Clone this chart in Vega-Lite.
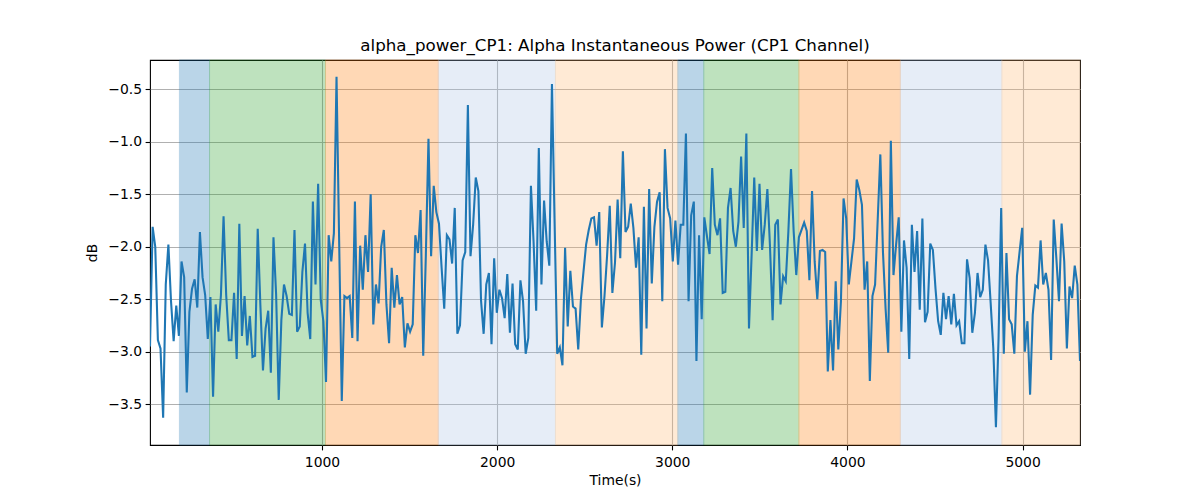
{
  "$schema": "https://vega.github.io/schema/vega-lite/v6.json",
  "autosize": "none",
  "width": 930,
  "height": 385,
  "padding": {"left": 150, "top": 60, "right": 120, "bottom": 55},
  "background": "white",
  "view": {"stroke": "#000000", "strokeWidth": 1.1},
  "title": {
    "text": "alpha_power_CP1: Alpha Instantaneous Power (CP1 Channel)",
    "font": "DejaVu Sans",
    "fontSize": 16.7,
    "fontWeight": "normal",
    "color": "#000000",
    "anchor": "middle",
    "offset": 5
  },
  "config": {
    "axis": {
      "labelFont": "DejaVu Sans",
      "labelFontSize": 13.9,
      "labelColor": "#000000",
      "titleFont": "DejaVu Sans",
      "titleFontSize": 13.9,
      "titleFontWeight": "normal",
      "titleColor": "#000000",
      "tickColor": "#000000",
      "tickSize": 4.9,
      "tickWidth": 1.1,
      "domain": false,
      "grid": true,
      "gridColor": "#b0b0b0",
      "gridWidth": 1.1
    }
  },
  "datasets": {
    "phases": [
      {"start": 186, "end": 358, "phase": "a"},
      {"start": 358, "end": 1020, "phase": "b"},
      {"start": 1020, "end": 1664, "phase": "c"},
      {"start": 1664, "end": 2333, "phase": "d"},
      {"start": 2333, "end": 3032, "phase": "e"},
      {"start": 3032, "end": 3180, "phase": "a"},
      {"start": 3180, "end": 3723, "phase": "b"},
      {"start": 3723, "end": 4302, "phase": "c"},
      {"start": 4302, "end": 4882, "phase": "d"},
      {"start": 4882, "end": 5328, "phase": "e"}
    ],
    "power": [
      {"t": 18, "db": -2.95}, {"t": 33, "db": -1.81}, {"t": 48, "db": -2.00}, {"t": 63, "db": -2.89}, {"t": 78, "db": -2.97},
      {"t": 93, "db": -3.63}, {"t": 108, "db": -2.36}, {"t": 123, "db": -1.98}, {"t": 138, "db": -2.52}, {"t": 153, "db": -2.90},
      {"t": 168, "db": -2.56}, {"t": 183, "db": -2.85}, {"t": 198, "db": -2.14}, {"t": 213, "db": -2.29}, {"t": 228, "db": -3.39},
      {"t": 243, "db": -2.62}, {"t": 258, "db": -2.40}, {"t": 273, "db": -2.31}, {"t": 288, "db": -2.58}, {"t": 303, "db": -1.86},
      {"t": 318, "db": -2.29}, {"t": 333, "db": -2.46}, {"t": 348, "db": -2.88}, {"t": 363, "db": -2.48}, {"t": 378, "db": -3.43},
      {"t": 393, "db": -2.55}, {"t": 408, "db": -2.81}, {"t": 423, "db": -2.46}, {"t": 438, "db": -1.71}, {"t": 453, "db": -2.46},
      {"t": 468, "db": -2.89}, {"t": 483, "db": -2.89}, {"t": 498, "db": -2.44}, {"t": 513, "db": -3.07}, {"t": 528, "db": -1.78},
      {"t": 543, "db": -2.85}, {"t": 558, "db": -2.47}, {"t": 573, "db": -2.94}, {"t": 588, "db": -2.66}, {"t": 603, "db": -3.05},
      {"t": 618, "db": -3.04}, {"t": 633, "db": -1.83}, {"t": 648, "db": -2.55}, {"t": 663, "db": -3.18}, {"t": 678, "db": -2.78},
      {"t": 693, "db": -2.61}, {"t": 708, "db": -3.20}, {"t": 723, "db": -1.91}, {"t": 738, "db": -2.45}, {"t": 753, "db": -3.46},
      {"t": 768, "db": -2.70}, {"t": 783, "db": -2.36}, {"t": 798, "db": -2.47}, {"t": 813, "db": -2.64}, {"t": 828, "db": -2.65},
      {"t": 843, "db": -1.84}, {"t": 858, "db": -2.81}, {"t": 873, "db": -2.76}, {"t": 888, "db": -2.24}, {"t": 903, "db": -1.97},
      {"t": 918, "db": -2.63}, {"t": 933, "db": -2.88}, {"t": 948, "db": -1.57}, {"t": 963, "db": -2.36}, {"t": 978, "db": -1.40},
      {"t": 993, "db": -2.51}, {"t": 1008, "db": -2.71}, {"t": 1023, "db": -3.29}, {"t": 1038, "db": -1.89}, {"t": 1053, "db": -2.14},
      {"t": 1068, "db": -1.87}, {"t": 1083, "db": -0.38}, {"t": 1098, "db": -1.95}, {"t": 1113, "db": -3.47}, {"t": 1128, "db": -2.47},
      {"t": 1143, "db": -2.49}, {"t": 1158, "db": -2.47}, {"t": 1173, "db": -2.87}, {"t": 1188, "db": -1.57}, {"t": 1203, "db": -2.90},
      {"t": 1218, "db": -1.99}, {"t": 1233, "db": -2.41}, {"t": 1248, "db": -1.89}, {"t": 1263, "db": -2.24}, {"t": 1278, "db": -1.50},
      {"t": 1293, "db": -2.74}, {"t": 1308, "db": -2.36}, {"t": 1323, "db": -2.54}, {"t": 1338, "db": -2.00}, {"t": 1353, "db": -1.84},
      {"t": 1368, "db": -2.55}, {"t": 1383, "db": -2.92}, {"t": 1398, "db": -2.20}, {"t": 1413, "db": -2.58}, {"t": 1428, "db": -2.27},
      {"t": 1443, "db": -2.55}, {"t": 1458, "db": -2.48}, {"t": 1473, "db": -2.96}, {"t": 1488, "db": -2.73}, {"t": 1503, "db": -2.81},
      {"t": 1518, "db": -2.74}, {"t": 1533, "db": -1.89}, {"t": 1548, "db": -2.06}, {"t": 1563, "db": -1.65}, {"t": 1578, "db": -3.04},
      {"t": 1593, "db": -2.08}, {"t": 1608, "db": -0.97}, {"t": 1623, "db": -2.09}, {"t": 1638, "db": -1.42}, {"t": 1653, "db": -1.67},
      {"t": 1668, "db": -1.78}, {"t": 1683, "db": -2.20}, {"t": 1698, "db": -2.59}, {"t": 1713, "db": -1.89}, {"t": 1728, "db": -1.93},
      {"t": 1743, "db": -2.16}, {"t": 1758, "db": -1.63}, {"t": 1773, "db": -2.83}, {"t": 1788, "db": -2.75}, {"t": 1803, "db": -2.13},
      {"t": 1818, "db": -2.05}, {"t": 1833, "db": -0.65}, {"t": 1848, "db": -2.09}, {"t": 1863, "db": -1.79}, {"t": 1878, "db": -1.34},
      {"t": 1893, "db": -1.47}, {"t": 1908, "db": -2.51}, {"t": 1923, "db": -2.83}, {"t": 1938, "db": -2.36}, {"t": 1953, "db": -2.25},
      {"t": 1968, "db": -2.93}, {"t": 1983, "db": -2.11}, {"t": 1998, "db": -2.63}, {"t": 2013, "db": -2.41}, {"t": 2028, "db": -2.49},
      {"t": 2043, "db": -2.68}, {"t": 2058, "db": -2.26}, {"t": 2073, "db": -2.82}, {"t": 2088, "db": -2.35}, {"t": 2103, "db": -2.93},
      {"t": 2118, "db": -2.98}, {"t": 2133, "db": -2.32}, {"t": 2148, "db": -2.52}, {"t": 2163, "db": -3.02}, {"t": 2178, "db": -2.87},
      {"t": 2193, "db": -1.42}, {"t": 2208, "db": -1.95}, {"t": 2223, "db": -2.61}, {"t": 2238, "db": -1.06}, {"t": 2253, "db": -2.36},
      {"t": 2268, "db": -1.56}, {"t": 2283, "db": -1.95}, {"t": 2298, "db": -2.18}, {"t": 2313, "db": -0.45}, {"t": 2328, "db": -1.76},
      {"t": 2343, "db": -3.02}, {"t": 2358, "db": -2.96}, {"t": 2373, "db": -3.13}, {"t": 2388, "db": -2.01}, {"t": 2403, "db": -2.76},
      {"t": 2418, "db": -2.23}, {"t": 2433, "db": -2.57}, {"t": 2448, "db": -2.59}, {"t": 2463, "db": -2.98}, {"t": 2478, "db": -2.51},
      {"t": 2493, "db": -2.24}, {"t": 2508, "db": -1.98}, {"t": 2523, "db": -1.84}, {"t": 2538, "db": -1.73}, {"t": 2553, "db": -1.72},
      {"t": 2568, "db": -1.99}, {"t": 2583, "db": -1.67}, {"t": 2598, "db": -2.77}, {"t": 2613, "db": -2.47}, {"t": 2628, "db": -2.08},
      {"t": 2643, "db": -1.61}, {"t": 2658, "db": -2.44}, {"t": 2673, "db": -2.15}, {"t": 2688, "db": -1.55}, {"t": 2703, "db": -2.11},
      {"t": 2718, "db": -1.09}, {"t": 2733, "db": -1.86}, {"t": 2748, "db": -1.81}, {"t": 2763, "db": -1.59}, {"t": 2778, "db": -1.82},
      {"t": 2793, "db": -2.20}, {"t": 2808, "db": -1.91}, {"t": 2823, "db": -3.03}, {"t": 2838, "db": -1.62}, {"t": 2853, "db": -2.78},
      {"t": 2868, "db": -1.45}, {"t": 2883, "db": -2.35}, {"t": 2898, "db": -1.81}, {"t": 2913, "db": -1.57}, {"t": 2928, "db": -1.48},
      {"t": 2943, "db": -2.52}, {"t": 2958, "db": -1.07}, {"t": 2973, "db": -1.63}, {"t": 2988, "db": -1.73}, {"t": 3003, "db": -2.14},
      {"t": 3018, "db": -1.75}, {"t": 3033, "db": -2.17}, {"t": 3048, "db": -1.79}, {"t": 3063, "db": -1.79}, {"t": 3078, "db": -0.92},
      {"t": 3093, "db": -2.52}, {"t": 3108, "db": -1.70}, {"t": 3123, "db": -1.57}, {"t": 3138, "db": -3.09}, {"t": 3153, "db": -1.89},
      {"t": 3168, "db": -2.69}, {"t": 3183, "db": -1.72}, {"t": 3198, "db": -1.90}, {"t": 3213, "db": -2.07}, {"t": 3228, "db": -1.25},
      {"t": 3243, "db": -1.79}, {"t": 3258, "db": -1.89}, {"t": 3273, "db": -1.73}, {"t": 3288, "db": -2.44}, {"t": 3303, "db": -2.43},
      {"t": 3318, "db": -1.63}, {"t": 3333, "db": -1.44}, {"t": 3348, "db": -1.85}, {"t": 3363, "db": -2.00}, {"t": 3378, "db": -1.76},
      {"t": 3393, "db": -1.14}, {"t": 3408, "db": -1.82}, {"t": 3423, "db": -0.92}, {"t": 3438, "db": -2.78}, {"t": 3453, "db": -2.08},
      {"t": 3468, "db": -1.34}, {"t": 3483, "db": -2.04}, {"t": 3498, "db": -1.40}, {"t": 3513, "db": -2.03}, {"t": 3528, "db": -1.79},
      {"t": 3543, "db": -1.45}, {"t": 3558, "db": -2.00}, {"t": 3573, "db": -2.70}, {"t": 3588, "db": -1.79}, {"t": 3603, "db": -1.74},
      {"t": 3618, "db": -2.55}, {"t": 3633, "db": -2.28}, {"t": 3648, "db": -2.33}, {"t": 3663, "db": -1.85}, {"t": 3678, "db": -1.26},
      {"t": 3693, "db": -1.85}, {"t": 3708, "db": -2.27}, {"t": 3723, "db": -1.91}, {"t": 3738, "db": -1.84}, {"t": 3753, "db": -1.77},
      {"t": 3768, "db": -1.85}, {"t": 3783, "db": -2.32}, {"t": 3798, "db": -1.47}, {"t": 3813, "db": -2.14}, {"t": 3828, "db": -2.50},
      {"t": 3843, "db": -2.04}, {"t": 3858, "db": -2.03}, {"t": 3873, "db": -2.05}, {"t": 3888, "db": -3.19}, {"t": 3903, "db": -2.70},
      {"t": 3918, "db": -3.18}, {"t": 3933, "db": -2.33}, {"t": 3948, "db": -2.98}, {"t": 3963, "db": -2.52}, {"t": 3978, "db": -1.54},
      {"t": 3993, "db": -1.73}, {"t": 4008, "db": -2.36}, {"t": 4023, "db": -2.14}, {"t": 4038, "db": -1.92}, {"t": 4053, "db": -1.36},
      {"t": 4068, "db": -1.46}, {"t": 4083, "db": -1.60}, {"t": 4098, "db": -2.41}, {"t": 4113, "db": -2.14}, {"t": 4128, "db": -3.28},
      {"t": 4143, "db": -2.47}, {"t": 4158, "db": -2.36}, {"t": 4173, "db": -1.74}, {"t": 4188, "db": -1.12}, {"t": 4203, "db": -2.05},
      {"t": 4218, "db": -2.59}, {"t": 4233, "db": -3.01}, {"t": 4248, "db": -0.99}, {"t": 4263, "db": -2.27}, {"t": 4278, "db": -1.98},
      {"t": 4293, "db": -1.72}, {"t": 4308, "db": -2.81}, {"t": 4323, "db": -1.94}, {"t": 4338, "db": -2.20}, {"t": 4353, "db": -3.07},
      {"t": 4368, "db": -1.79}, {"t": 4383, "db": -2.24}, {"t": 4398, "db": -1.85}, {"t": 4413, "db": -2.60}, {"t": 4428, "db": -1.73},
      {"t": 4443, "db": -2.72}, {"t": 4458, "db": -2.62}, {"t": 4473, "db": -1.97}, {"t": 4488, "db": -2.03}, {"t": 4503, "db": -2.40},
      {"t": 4518, "db": -2.71}, {"t": 4533, "db": -2.84}, {"t": 4548, "db": -2.44}, {"t": 4563, "db": -2.69}, {"t": 4578, "db": -2.47},
      {"t": 4593, "db": -2.74}, {"t": 4608, "db": -2.45}, {"t": 4623, "db": -2.75}, {"t": 4638, "db": -2.71}, {"t": 4653, "db": -2.92},
      {"t": 4668, "db": -2.92}, {"t": 4683, "db": -2.12}, {"t": 4698, "db": -2.30}, {"t": 4713, "db": -2.82}, {"t": 4728, "db": -2.63},
      {"t": 4743, "db": -2.25}, {"t": 4758, "db": -2.48}, {"t": 4773, "db": -2.41}, {"t": 4788, "db": -1.98}, {"t": 4803, "db": -2.13},
      {"t": 4818, "db": -2.54}, {"t": 4833, "db": -2.97}, {"t": 4848, "db": -3.72}, {"t": 4863, "db": -2.87}, {"t": 4878, "db": -1.63},
      {"t": 4893, "db": -3.02}, {"t": 4908, "db": -2.06}, {"t": 4923, "db": -2.69}, {"t": 4938, "db": -2.74}, {"t": 4953, "db": -3.02},
      {"t": 4968, "db": -2.28}, {"t": 4983, "db": -2.05}, {"t": 4998, "db": -1.82}, {"t": 5013, "db": -3.00}, {"t": 5028, "db": -2.71},
      {"t": 5043, "db": -3.41}, {"t": 5058, "db": -2.65}, {"t": 5073, "db": -2.37}, {"t": 5088, "db": -2.39}, {"t": 5103, "db": -1.94},
      {"t": 5118, "db": -2.36}, {"t": 5133, "db": -2.25}, {"t": 5148, "db": -2.41}, {"t": 5163, "db": -3.08}, {"t": 5178, "db": -1.74},
      {"t": 5193, "db": -2.11}, {"t": 5208, "db": -2.52}, {"t": 5223, "db": -1.78}, {"t": 5238, "db": -2.14}, {"t": 5253, "db": -2.97},
      {"t": 5268, "db": -2.38}, {"t": 5283, "db": -2.49}, {"t": 5298, "db": -2.18}, {"t": 5313, "db": -2.36}, {"t": 5328, "db": -3.09}
    ]
  },
  "layer": [
    {
      "data": {"name": "phases"},
      "mark": {"type": "rect", "opacity": 0.3, "strokeWidth": 1},
      "encoding": {
        "x": {
          "field": "start",
          "type": "quantitative",
          "scale": {"domain": [18, 5328], "nice": false, "zero": false},
          "axis": {"values": [1000, 2000, 3000, 4000, 5000], "format": "d", "title": "Time(s)", "labelPadding": 5.5, "titlePadding": 4}
        },
        "x2": {"field": "end"},
        "color": {
          "field": "phase",
          "type": "nominal",
          "scale": {"domain": ["a", "b", "c", "d", "e"], "range": ["#1f77b4", "#2ca02c", "#ff7f0e", "#aec7e8", "#ffbb78"]},
          "legend": null
        },
        "stroke": {
          "field": "phase",
          "type": "nominal",
          "scale": {"domain": ["a", "b", "c", "d", "e"], "range": ["#1f77b4", "#2ca02c", "#ff7f0e", "#aec7e8", "#ffbb78"]},
          "legend": null
        }
      }
    },
    {
      "data": {"name": "power"},
      "mark": {"type": "line", "color": "#1f77b4", "strokeWidth": 2.08, "clip": true},
      "encoding": {
        "x": {"field": "t", "type": "quantitative"},
        "y": {
          "field": "db",
          "type": "quantitative",
          "scale": {"domain": [-3.89, -0.22], "nice": false, "zero": false},
          "axis": {"values": [-3.5, -3, -2.5, -2, -1.5, -1, -0.5], "format": ".1f", "title": "dB", "labelPadding": 3.5, "titlePadding": 8}
        }
      }
    }
  ]
}
